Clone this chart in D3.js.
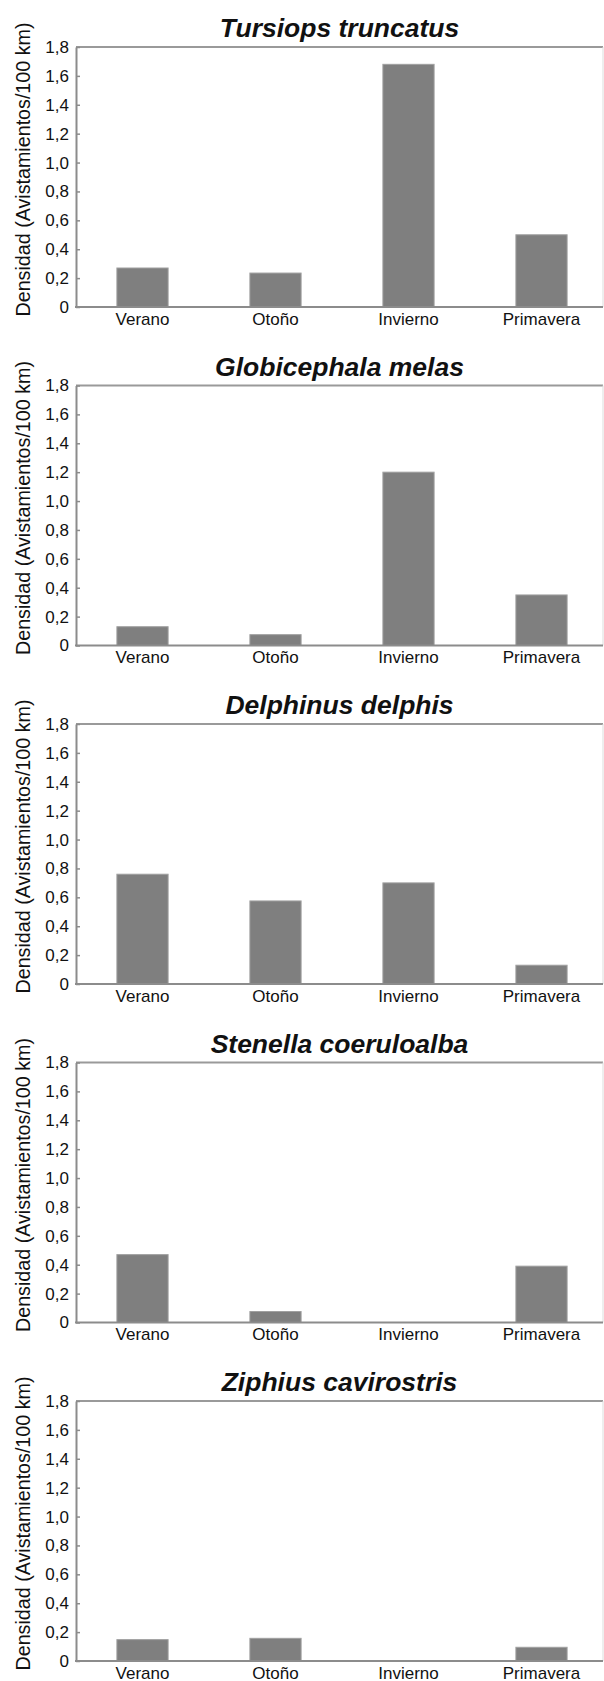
<!DOCTYPE html>
<html>
<head>
<meta charset="utf-8">
<script src="https://cdn.jsdelivr.net/npm/d3@7"></script>
<style>
  body { margin: 0; background: #fff; }
  .tick line { stroke: #8c8c8c; stroke-width: 1.5; }
  .y-ticks text { font-family: "Liberation Sans Narrow", "Arial Narrow", "Liberation Sans", Arial, sans-serif; font-size: 17px; fill: #111; }
  .x-ticks text { font-family: "Liberation Sans", Arial, sans-serif; font-size: 17px; fill: #111; }
</style>
</head>
<body>
<div id="chart"></div>
<script>
let svgWidth = 604;
let svgHeight = 1681;

// Data =========================

let seasons = ["Verano", "Otoño", "Invierno", "Primavera"];
let species = ["Tursiops truncatus", "Globicephala melas", "Delphinus delphis", "Stenella coeruloalba", "Ziphius cavirostris"];

let tursiops = [0.27, 0.235, 1.68, 0.50];
let globicephala = [0.13, 0.075, 1.20, 0.35];
let delphinus = [0.76, 0.575, 0.70, 0.13];
let stenella = [0.47, 0.076, 0, 0.39];
let ziphius = [0.148, 0.157, 0, 0.095];

let seriesList = [tursiops, globicephala, delphinus, stenella, ziphius];

let yTicks = [0, 0.2, 0.4, 0.6, 0.8, 1.0, 1.2, 1.4, 1.6, 1.8];
let yTitle = "Densidad (Avistamientos/100 km)";

// Layout =========================

let plotLeft = 76;
let plotRight = 603;
let panelTop = 47;
let panelStep = 338.5;
let plotHeight = 260;

let svg = d3.select("#chart").append("svg")
  .attr("width", svgWidth)
  .attr("height", svgHeight)
  .style("background", "#fff");

let x = d3.scaleBand()
  .domain(seasons)
  .range([plotLeft, 608])
  .paddingInner(0.615)
  .paddingOuter(0.3075);

let y = d3.scaleLinear()
  .domain([0, 1.8])
  .range([plotHeight, 0]);

let fmt = d => d === 0 ? "0" : d.toFixed(1).replace(".", ",");

species.forEach((name, i) => {
  let top = panelTop + i * panelStep;
  let g = svg.append("g").attr("transform", `translate(0, ${top})`);
  let values = seriesList[i];

  // bars
  g.selectAll("rect")
    .data(values.map((v, j) => ({ season: seasons[j], value: v })).filter(d => d.value > 0))
    .enter()
    .append("rect")
    .attr("x", d => x(d.season))
    .attr("y", d => y(d.value))
    .attr("width", x.bandwidth())
    .attr("height", d => y(0) - y(d.value))
    .attr("fill", "#7f7f7f")
    .attr("stroke", "#a0a0a0")
    .attr("stroke-width", 1);

  // frame: top line grey, faint right edge
  g.append("line").attr("x1", plotLeft).attr("x2", plotRight).attr("y1", 0).attr("y2", 0)
    .attr("stroke", "#9a9a9a").attr("stroke-width", 2);
  g.append("line").attr("x1", plotRight).attr("x2", plotRight).attr("y1", 0).attr("y2", plotHeight)
    .attr("stroke", "#dddddd").attr("stroke-width", 1);

  let yAxis = g.append("g")
    .classed("y-ticks", true)
    .attr("transform", `translate(${plotLeft}, 0)`)
    .call(d3.axisLeft(y).tickValues(yTicks).tickFormat(fmt).tickSizeInner(-4).tickSizeOuter(0).tickPadding(7));
  yAxis.select(".domain").attr("stroke", "#8c8c8c").attr("stroke-width", 2);

  let xAxis = g.append("g")
    .classed("x-ticks", true)
    .attr("transform", `translate(0, ${plotHeight})`)
    .call(d3.axisBottom(x).tickSize(0));
  xAxis.select(".domain").remove();
  xAxis.selectAll("text").attr("dy", null).attr("y", 17.5);
  g.append("line").attr("x1", plotLeft - 1).attr("x2", plotRight).attr("y1", plotHeight).attr("y2", plotHeight)
    .attr("stroke", "#8c8c8c").attr("stroke-width", 2);

  // title
  g.append("text")
    .attr("x", (plotLeft + plotRight) / 2)
    .attr("y", -10)
    .attr("text-anchor", "middle")
    .style("font-family", "'Liberation Sans', Arial, sans-serif")
    .style("font-size", "26.5px")
    .style("font-weight", "bold")
    .style("font-style", "italic")
    .attr("fill", "#111")
    .text(name);

  // y axis label
  g.append("text")
    .attr("transform", "rotate(-90)")
    .attr("x", -(plotHeight / 2 - 7.5))
    .attr("y", 29.5)
    .attr("text-anchor", "middle")
    .style("font-family", "'Liberation Sans', Arial, sans-serif")
    .style("font-size", "19.7px")
    .attr("fill", "#111")
    .text(yTitle);
});
</script>
</body>
</html>
